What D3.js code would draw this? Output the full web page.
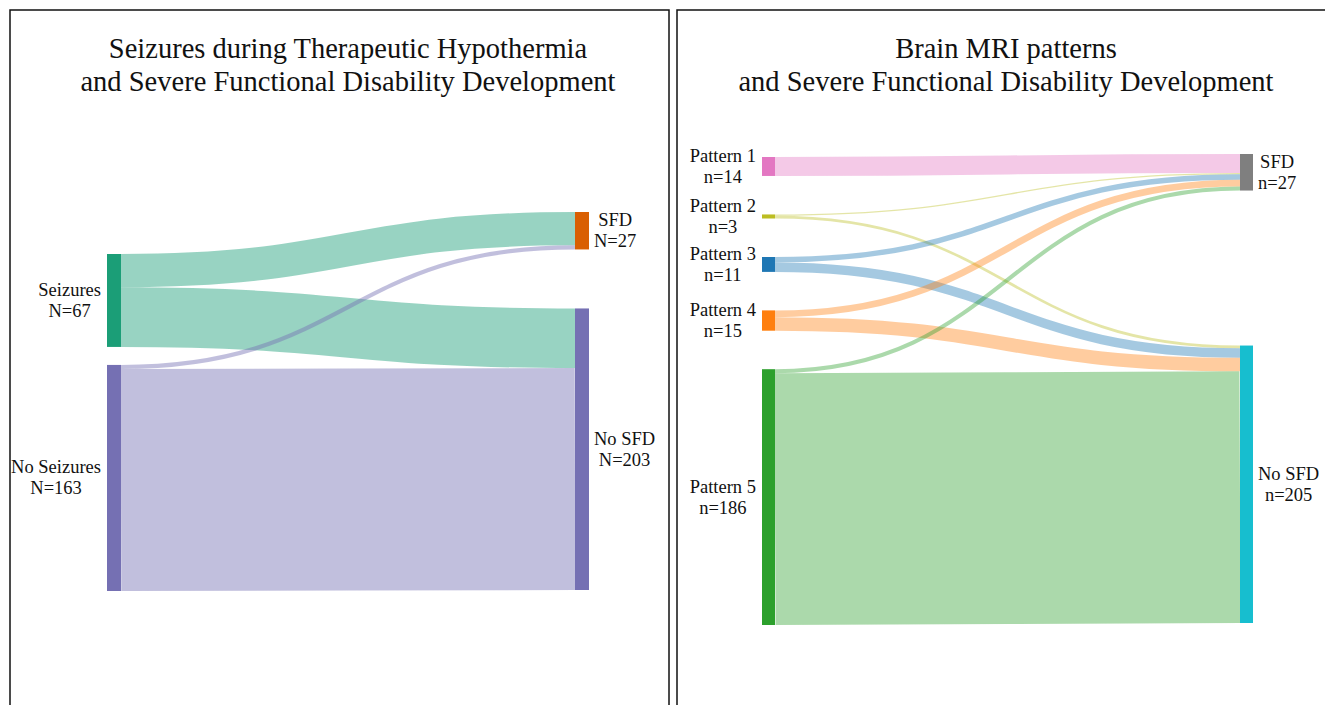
<!DOCTYPE html>
<html>
<head>
<meta charset="utf-8">
<script src="https://cdn.jsdelivr.net/npm/d3@7"></script>
<style>
  html, body { margin: 0; padding: 0; background: #fff; }
  svg text { font-family: "Liberation Serif", "Times New Roman", serif; fill: #111; }
</style>
</head>
<body>
<svg id="svg1" width="1325" height="705"></svg>
<script>
// ---- data: seizures panel
var seizureTitle = ["Seizures during Therapeutic Hypothermia", "and Severe Functional Disability Development"];
var seizureSources = ["Seizures", "No Seizures"];
var seizureSourceLabels = [["Seizures", "N=67"], ["No Seizures", "N=163"]];
var seizureTargets = ["SFD", "No SFD"];
var seizureTargetLabels = [["SFD", "N=27"], ["No SFD", "N=203"]];
// rows = source, cols = target
var seizureFlows = [[24, 43], [3, 160]];

// ---- data: MRI panel
var mriTitle = ["Brain MRI patterns", "and Severe Functional Disability Development"];
var mriSources = ["Pattern 1", "Pattern 2", "Pattern 3", "Pattern 4", "Pattern 5"];
var mriSourceLabels = [["Pattern 1", "n=14"], ["Pattern 2", "n=3"], ["Pattern 3", "n=11"], ["Pattern 4", "n=15"], ["Pattern 5", "n=186"]];
var mriTargets = ["SFD", "No SFD"];
var mriTargetLabels = [["SFD", "n=27"], ["No SFD", "n=205"]];
var mriFlows = [[14, 0], [1, 2], [4, 7], [5, 10], [3, 186]];

// ---- styles / layout
var seizureSourceColors = ["#1b9e77", "#7570b3"];
var seizureTargetColors = ["#d95f02", "#7570b3"];
var mriSourceColors = ["#e377c2", "#bcbd22", "#1f77b4", "#ff7f0e", "#2ca02c"];
var mriTargetColors = ["#7f7f7f", "#17becf"];

var panels = [
  {
    box: [10, 10, 659, 720], titleX: 348,
    title: seizureTitle, sources: seizureSources, targets: seizureTargets,
    sourceLabels: seizureSourceLabels, targetLabels: seizureTargetLabels,
    flows: seizureFlows, sourceColors: seizureSourceColors, targetColors: seizureTargetColors,
    sx: 107, tx: 575, nodeW: 14, span: 319, linkOpacity: 0.45,
    sourceExtent: [254, 591], targetExtent: [212, 590]
  },
  {
    box: [677, 10, 659, 720], titleX: 1006,
    title: mriTitle, sources: mriSources, targets: mriTargets,
    sourceLabels: mriSourceLabels, targetLabels: mriTargetLabels,
    flows: mriFlows, sourceColors: mriSourceColors, targetColors: mriTargetColors,
    sx: 762, tx: 1240, nodeW: 13, span: 314, linkOpacity: 0.4,
    sourceExtent: [157, 625], targetExtent: [154, 623]
  }
];

var svg = d3.select("#svg1");
svg.append("rect").attr("width", 1325).attr("height", 705).attr("fill", "#fff");

var link = d3.linkHorizontal().x(function(d){ return d[0]; }).y(function(d){ return d[1]; });

// stack nodes of a column between its top and bottom, gaps shared evenly
function placeColumn(values, extent, ky){
  var total = d3.sum(values, function(v){ return ky(v); });
  var gap = values.length > 1 ? (extent[1] - extent[0] - total) / (values.length - 1) : 0;
  var y = extent[0];
  return values.map(function(v){
    var n = {y0: y, y1: y + ky(v)};
    y = n.y1 + gap;
    return n;
  });
}

function drawLabel(g, lines, x, cy, side){
  var t = g.append("text").attr("font-size", 18.5).attr("text-anchor", "middle");
  lines.forEach(function(s, i){
    t.append("tspan").attr("x", 0).attr("y", cy - 4.5 + i * 21).text(s);
  });
  var w = t.node().getBBox().width;
  var cx = side === "left" ? x - 6 - w / 2 : x + 5 + w / 2;
  t.selectAll("tspan").attr("x", cx);
}

panels.forEach(function(p){
  var g = svg.append("g");
  g.append("rect")
    .attr("x", p.box[0]).attr("y", p.box[1])
    .attr("width", p.box[2]).attr("height", p.box[3])
    .attr("fill", "none").attr("stroke", "#111").attr("stroke-width", 1.5);

  g.selectAll("text.title").data(p.title).enter().append("text")
    .attr("class", "title")
    .attr("x", p.titleX).attr("y", function(d, i){ return 58 + i * 33; })
    .attr("text-anchor", "middle").attr("font-size", 28.5)
    .text(function(d){ return d; });

  var srcVals = p.flows.map(function(r){ return d3.sum(r); });
  var tgtVals = p.targets.map(function(t, j){ return d3.sum(p.flows, function(r){ return r[j]; }); });
  var ky = d3.scaleLinear().domain([0, d3.sum(srcVals)]).range([0, p.span]);

  var srcNodes = placeColumn(srcVals, p.sourceExtent, ky);
  var tgtNodes = placeColumn(tgtVals, p.targetExtent, ky);

  // link bands: source side ordered by target, target side ordered by source
  var links = [];
  var sOff = srcNodes.map(function(n){ return n.y0; });
  var tOff = tgtNodes.map(function(n){ return n.y0; });
  p.flows.forEach(function(row, i){
    row.forEach(function(v, j){
      if (!v) return;
      var w = ky(v);
      links.push({i: i, j: j, w: w, sy: sOff[i] + w / 2, ty: tOff[j] + w / 2});
      sOff[i] += w; tOff[j] += w;
    });
  });

  g.selectAll("path.link").data(links).enter().append("path")
    .attr("class", "link")
    .attr("d", function(l){ return link({source: [p.sx + p.nodeW, l.sy], target: [p.tx, l.ty]}); })
    .attr("fill", "none")
    .attr("stroke", function(l){ return p.sourceColors[l.i]; })
    .attr("stroke-opacity", p.linkOpacity)
    .attr("stroke-width", function(l){ return Math.max(1, l.w); });

  g.selectAll("rect.src").data(srcNodes).enter().append("rect")
    .attr("class", "src")
    .attr("x", p.sx).attr("y", function(n){ return n.y0; })
    .attr("width", p.nodeW).attr("height", function(n){ return Math.max(1, n.y1 - n.y0); })
    .attr("fill", function(n, i){ return p.sourceColors[i]; });

  g.selectAll("rect.tgt").data(tgtNodes).enter().append("rect")
    .attr("class", "tgt")
    .attr("x", p.tx).attr("y", function(n){ return n.y0; })
    .attr("width", p.nodeW).attr("height", function(n){ return n.y1 - n.y0; })
    .attr("fill", function(n, i){ return p.targetColors[i]; });

  srcNodes.forEach(function(n, i){
    drawLabel(g, p.sourceLabels[i], p.sx, (n.y0 + n.y1) / 2, "left");
  });
  tgtNodes.forEach(function(n, j){
    drawLabel(g, p.targetLabels[j], p.tx + p.nodeW, (n.y0 + n.y1) / 2, "right");
  });
});
</script>
</body>
</html>
